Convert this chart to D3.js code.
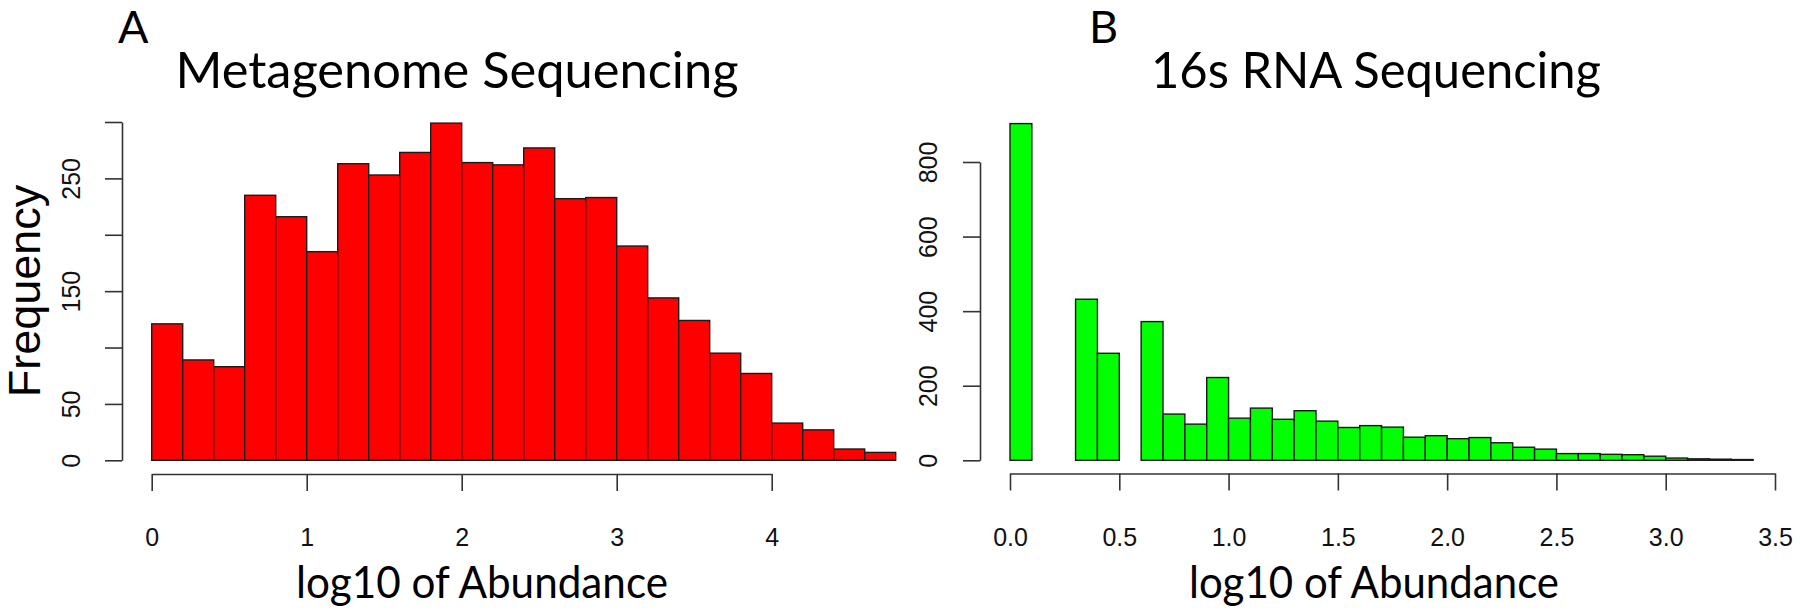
<!DOCTYPE html>
<html>
<head>
<meta charset="utf-8">
<script src="https://cdn.jsdelivr.net/npm/d3@7/dist/d3.min.js"></script>
<style>
  html, body { margin: 0; padding: 0; background: #fff; }
  svg { display: block; }
</style>
</head>
<body>
<svg id="chart" width="1800" height="613"></svg>
<script>
// ---------- DATA ----------
// Panel A: histogram of log10 abundance, bins of width 0.2 from 0 to 4.8
const metaBinStart = 0;
const metaBinWidth = 0.2;
const metaCounts = [121, 89, 83, 235, 216, 185, 263, 253, 273, 299, 264, 262,
                    277, 232, 233, 190, 144, 124, 95, 77, 33, 27, 10, 7];
const metaXTicks = [0, 1, 2, 3, 4];
const metaYTicks = [0, 50, 100, 150, 200, 250, 300];
const metaYLabels = ["0", "50", "", "150", "", "250", ""];

// Panel B: histogram of log10 abundance, bins of width 0.1 from 0 to 3.4
const rnaBinStart = 0;
const rnaBinWidth = 0.1;
const rnaCounts = [903, 0, 0, 432, 287, 0, 372, 124, 97, 222, 113, 140, 110, 133,
                   105, 88, 93, 89, 62, 66, 58, 61, 47, 35, 30, 18, 18, 16, 15, 11,
                   6, 4, 3, 2];
const rnaXTicks = [0, 0.5, 1, 1.5, 2, 2.5, 3, 3.5];
const rnaXLabels = ["0.0", "0.5", "1.0", "1.5", "2.0", "2.5", "3.0", "3.5"];
const rnaYTicks = [0, 200, 400, 600, 800];
const rnaYLabels = ["0", "200", "400", "600", "800"];

const titles = ["Metagenome Sequencing", "16s RNA Sequencing"];
const panelLetters = ["A", "B"];
const xTitle = "log10 of Abundance";
const yTitle = "Frequency";

// ---------- DRAW ----------
const svg = d3.select("#chart");
const AXIS_COLOR = "#333";
const TICK_FONT = "'Liberation Sans', Arial, Helvetica, sans-serif";
const TITLE_FONT = "Lato, 'Open Sans', sans-serif";

function drawPanel(cfg) {
  const g = svg.append("g");
  const x = d3.scaleLinear().domain(cfg.xDomain).range(cfg.xRange);
  const y = d3.scaleLinear().domain(cfg.yDomain).range(cfg.yRange);

  const bins = cfg.counts.map((c, i) => ({
    x0: cfg.binStart + i * cfg.binWidth,
    x1: cfg.binStart + (i + 1) * cfg.binWidth,
    n: c
  }));

  g.append("g").selectAll("rect").data(bins).join("rect")
    .attr("x", d => x(d.x0))
    .attr("width", d => x(d.x1) - x(d.x0))
    .attr("y", d => y(d.n))
    .attr("height", d => y(0) - y(d.n))
    .attr("fill", cfg.fill)
    .attr("stroke", "#1a1a1a")
    .attr("stroke-width", 1.4);

  // x axis
  const xa = g.append("g")
    .attr("transform", `translate(0,${cfg.xAxisY})`)
    .call(d3.axisBottom(x).tickValues(cfg.xTicks)
      .tickFormat((d, i) => cfg.xLabels[i]).tickSize(17).tickSizeOuter(0));
  xa.select(".domain").attr("stroke", AXIS_COLOR).attr("stroke-width", 1.6);
  xa.selectAll(".tick line").attr("stroke", AXIS_COLOR).attr("stroke-width", 1.6);
  xa.selectAll(".tick text")
    .attr("y", cfg.xLabelOffset).attr("dy", 0)
    .attr("fill", "#111")
    .style("font-family", TICK_FONT).style("font-size", "25px");

  // y axis
  const ya = g.append("g")
    .attr("transform", `translate(${cfg.yAxisX},0)`)
    .call(d3.axisLeft(y).tickValues(cfg.yTicks)
      .tickFormat((d, i) => cfg.yLabels[i]).tickSize(17).tickSizeOuter(0));
  ya.select(".domain").attr("stroke", AXIS_COLOR).attr("stroke-width", 1.6);
  ya.selectAll(".tick line").attr("stroke", AXIS_COLOR).attr("stroke-width", 1.6);
  ya.selectAll(".tick text")
    .attr("x", null).attr("y", null).attr("dy", 0)
    .attr("text-anchor", "middle")
    .attr("transform", `translate(${cfg.yLabelOffset},0) rotate(-90)`)
    .attr("fill", "#111")
    .style("font-family", TICK_FONT).style("font-size", "25px");
  ya.selectAll(".tick text").filter(function () { return this.textContent === ""; }).remove();

  // titles
  g.append("text")
    .attr("x", cfg.titleX).attr("y", cfg.titleY)
    .attr("text-anchor", "middle")
    .attr("textLength", cfg.titleW).attr("lengthAdjust", "spacingAndGlyphs")
    .style("font-family", TITLE_FONT).style("font-size", "51px")
    .attr("fill", "#000")
    .text(cfg.title);

  g.append("text")
    .attr("x", cfg.letterX).attr("y", 43)
    .style("font-family", TITLE_FONT).style("font-size", "45px")
    .attr("fill", "#000")
    .text(cfg.letter);

  g.append("text")
    .attr("x", cfg.xTitleX).attr("y", 598)
    .attr("text-anchor", "middle")
    .attr("textLength", cfg.xTitleW).attr("lengthAdjust", "spacingAndGlyphs")
    .style("font-family", TITLE_FONT).style("font-size", "44px")
    .attr("fill", "#000")
    .text(xTitle);

  return g;
}

drawPanel({
  counts: metaCounts, binStart: metaBinStart, binWidth: metaBinWidth,
  fill: "#ff0000",
  xDomain: [0, 4], xRange: [151.7, 771.7],
  yDomain: [0, 300], yRange: [460.3, 122],
  xTicks: metaXTicks, xLabels: metaXTicks.map(String),
  yTicks: metaYTicks, yLabels: metaYLabels,
  xAxisY: 474, yAxisX: 122,
  xLabelOffset: 72, yLabelOffset: -42,
  title: titles[0], titleX: 457, titleY: 88, titleW: 563,
  letter: panelLetters[0], letterX: 118,
  xTitleX: 482, xTitleW: 372
});

drawPanel({
  counts: rnaCounts, binStart: rnaBinStart, binWidth: rnaBinWidth,
  fill: "#00ff00",
  xDomain: [0, 3.5], xRange: [1010, 1775],
  yDomain: [0, 800], yRange: [460.3, 162],
  xTicks: rnaXTicks, xLabels: rnaXLabels,
  yTicks: rnaYTicks, yLabels: rnaYLabels,
  xAxisY: 473.5, yAxisX: 980,
  xLabelOffset: 72, yLabelOffset: -43,
  title: titles[1], titleX: 1376, titleY: 88, titleW: 450,
  letter: panelLetters[1], letterX: 1089,
  xTitleX: 1374, xTitleW: 370
});

// y-axis title (panel A only)
svg.append("text")
  .attr("transform", "translate(40,291) rotate(-90)")
  .attr("text-anchor", "middle")
  .style("font-family", TICK_FONT).style("font-size", "45px")
  .attr("fill", "#000")
  .text(yTitle);
</script>
</body>
</html>
